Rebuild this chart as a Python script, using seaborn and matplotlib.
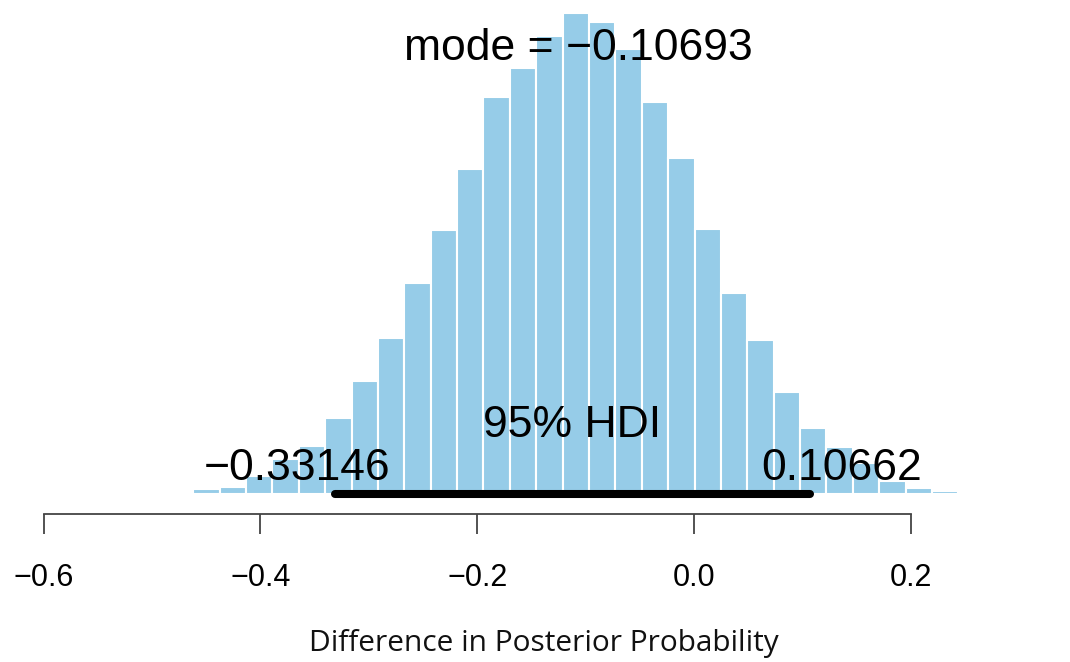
import numpy as np
import pandas as pd
import matplotlib
matplotlib.use("Agg")
import matplotlib.pyplot as plt
import seaborn as sns

# ---- data ----
bin_start = -0.58359
bin_width = 0.024338
density = [0.0015, 0.0022, 0.003, 0.0044, 0.0089,
           0.037, 0.056, 0.133, 0.258, 0.354, 0.561, 0.836, 1.152, 1.562,
           1.951, 2.401, 2.935, 3.145, 3.383, 3.555, 3.489, 3.285, 2.894,
           2.483, 1.959, 1.486, 1.141, 0.757, 0.492, 0.351, 0.229, 0.096,
           0.044, 0.027,
           0.0074, 0.0037, 0.0022, 0.0015]
mode_value = -0.10693
hdi_low = -0.33146
hdi_high = 0.10662
cred_mass = 95
x_ticks = [-0.6, -0.4, -0.2, 0.0, 0.2]
x_label = "Difference in Posterior Probability"


def fmt(v, nd=5):
    return f"{v:.{nd}f}".replace("-", "\u2212")


edges = bin_start + bin_width * np.arange(len(density) + 1)
centers = (edges[:-1] + edges[1:]) / 2
df = pd.DataFrame({"x": centers, "w": density})

sns.set_theme(style="white")
plt.rcParams["font.family"] = ["Liberation Sans", "DejaVu Sans"]

W, H = 1070, 662
base_px = 494.3
fig = plt.figure(figsize=(W / 100, H / 100), dpi=100)
ax = fig.add_axes([0, (H - base_px) / H, 1, base_px / H])

sns.histplot(data=df, x="x", weights="w", bins=[float(e) for e in edges],
             stat="count", color="#96CCE8", alpha=1, edgecolor="white",
             linewidth=1.5, ax=ax)

ax.set_xlim(-0.6402, 0.3469)
ax.set_ylim(0, 3.649)

for s in ["left", "top", "right"]:
    ax.spines[s].set_visible(False)
ax.spines["bottom"].set_bounds(x_ticks[0], x_ticks[-1])
ax.spines["bottom"].set_position(("outward", 14.2))
ax.spines["bottom"].set_color("#444444")
ax.spines["bottom"].set_linewidth(1.3)
ax.set_yticks([])
ax.set_ylabel("")
ax.set_xticks(x_ticks)
ax.set_xticklabels([fmt(v, 1) for v in x_ticks])
ax.tick_params(axis="x", bottom=True, length=14.4, width=1.3, color="#444444",
               pad=21, labelsize=22, labelcolor="black")

ax.set_xlabel(x_label, fontsize=21.5, family=["Open Sans", "DejaVu Sans"],
              color="#111111")
ax.xaxis.label.set_va("baseline")
ax.xaxis.set_label_coords(0.508, (base_px - 651) / base_px)

# HDI bar
ax.plot([hdi_low, hdi_high], [0, 0], color="black", lw=5.8,
        solid_capstyle="round", clip_on=False, zorder=5)

fs = 32
ax.text(mode_value, 3.206, "mode = " + fmt(mode_value), ha="center",
        va="baseline", fontsize=fs, color="black")
ax.text((hdi_low + hdi_high) / 2, 0.425, f"{cred_mass}% HDI", ha="center",
        va="baseline", fontsize=fs, color="black")
t1 = ax.text(hdi_low, 0.1056, fmt(hdi_low), ha="left", va="baseline",
             fontsize=fs, color="black")
t2 = ax.text(hdi_high, 0.1056, fmt(hdi_high), ha="left", va="baseline",
             fontsize=fs, color="black")
fig.canvas.draw()
r = fig.canvas.get_renderer()
inv = ax.transData.inverted()
for t, xv, adj in [(t1, hdi_low, 0.7), (t2, hdi_high, 0.3)]:
    bb = t.get_window_extent(r)
    x0 = inv.transform((bb.x0, 0))[0]
    x1 = inv.transform((bb.x1, 0))[0]
    t.set_x(xv - adj * (x1 - x0))

fig.savefig("out.png", dpi=100)
